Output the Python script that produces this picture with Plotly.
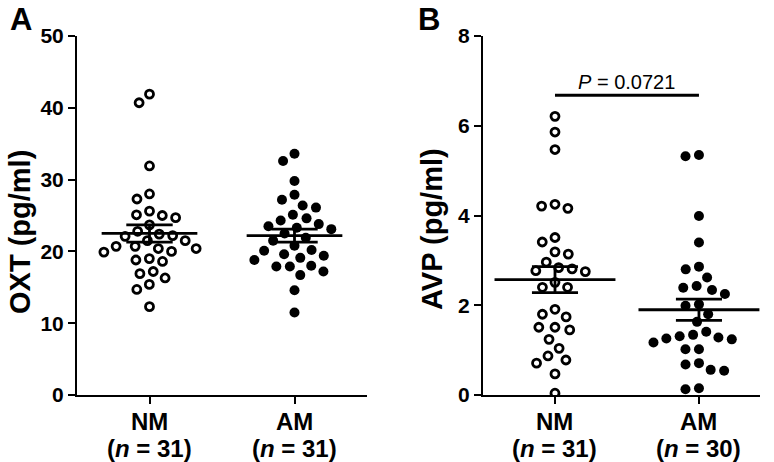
import math
import plotly.graph_objects as go

# ---------------- data ----------------
groups = ["NM", "AM"]
oxt_n = [31, 31]
avp_n = [31, 30]

oxt_nm = [41.9, 40.7, 31.9, 28.0, 27.3, 25.1, 25.6, 24.7, 25.0, 23.7, 22.8, 22.4, 22.1, 21.5, 21.5,
          22.2, 20.7, 20.4, 20.0, 20.4, 20.7, 19.9, 18.6, 19.0, 18.8, 16.9, 17.2, 16.3, 15.4, 14.7, 12.3]
oxt_am = [33.6, 32.6, 29.8, 27.9, 27.2, 26.4, 26.1, 25.1, 24.6, 24.3, 23.8, 23.3, 23.1, 23.5, 22.5,
          21.9, 21.5, 20.8, 20.2, 19.6, 20.1, 19.1, 19.4, 18.8, 18.0, 17.9, 17.9, 16.7, 17.2, 14.6, 11.5]
avp_nm = [6.21, 5.86, 5.47, 4.21, 4.16, 4.25, 3.51, 3.41, 3.19, 3.14, 2.96, 2.81, 2.75, 2.77, 2.84,
          2.40, 2.40, 2.51, 1.91, 1.74, 1.80, 1.51, 1.45, 1.51, 1.24, 1.04, 0.87, 0.71, 0.78, 0.47, 0.04]
avp_am = [5.35, 5.32, 3.99, 3.40, 2.86, 2.80, 2.62, 2.43, 2.34, 2.39, 2.25, 2.02, 1.99, 1.80, 1.63,
          1.41, 1.31, 1.26, 1.17, 1.34, 1.24, 1.28, 1.02, 1.02, 0.71, 0.56, 0.54, 0.68, 0.13, 0.15]

oxt_mean = [22.5, 22.2]
oxt_sem = [1.2, 0.9]
avp_mean = [2.57, 1.90]
avp_sem = [0.29, 0.235]

p_text = "<i>P</i> = 0.0721"
p_bar_y = 6.68

# ---------------- layout geometry ----------------
W, H = 774, 462
MT, MB = 36, 67
PLOT_H = H - MT - MB
A_X0, A_X1 = 77, 367
B_X0, B_X1 = 483, 760
A_RANGE = [-0.5, 1.5]
B_RANGE = [-0.5, 1.424]
A_YMAX, B_YMAX = 50, 8
FONT = "Arial, Liberation Sans, sans-serif"


def swarm(vals, y_px_per_unit, x_px_per_unit, d):
    placed = []
    offs = [0.0] * len(vals)
    order = sorted(range(len(vals)), key=lambda i: -vals[i])
    for i in order:
        y = vals[i] * y_px_per_unit
        cands = [0.0]
        for xj, yj in placed:
            dy = abs(y - yj)
            if dy < d:
                dx = math.sqrt(d * d - dy * dy)
                cands += [xj + dx, xj - dx]
        cands.sort(key=lambda c: (abs(c), c))
        chosen = 0.0
        for c in cands:
            if all((c - xj) ** 2 + (y - yj) ** 2 >= d * d - 1e-6 for xj, yj in placed):
                chosen = c
                break
        placed.append((chosen, y))
        offs[i] = chosen / x_px_per_unit
    return offs


a_xpx = (A_X1 - A_X0) / (A_RANGE[1] - A_RANGE[0])
b_xpx = (B_X1 - B_X0) / (B_RANGE[1] - B_RANGE[0])
a_ypx = PLOT_H / A_YMAX
b_ypx = PLOT_H / B_YMAX
D = 13.5

fig = go.Figure()

def add_group(vals, gi, xaxis, yaxis, xpx, ypx, filled):
    offs = swarm(vals, ypx, xpx, D)
    fig.add_trace(go.Scatter(
        x=[gi + o for o in offs], y=vals, mode="markers", xaxis=xaxis, yaxis=yaxis,
        marker=dict(symbol="circle", size=8 if not filled else 10,
                    color="white" if not filled else "black",
                    line=dict(color="black", width=2.8 if not filled else 0)),
        showlegend=False, hoverinfo="y"))

def add_mean(mean, sem, gi, xaxis, yaxis, hw, cw):
    line = dict(color="black", width=2.8)
    fig.add_trace(go.Scatter(x=[gi - hw, gi + hw], y=[mean, mean], mode="lines",
                             xaxis=xaxis, yaxis=yaxis, line=line, showlegend=False, hoverinfo="skip"))
    fig.add_trace(go.Scatter(
        x=[gi - cw, gi + cw, None, gi - cw, gi + cw, None, gi, gi],
        y=[mean + sem, mean + sem, None, mean - sem, mean - sem, None, mean - sem, mean + sem],
        mode="lines", xaxis=xaxis, yaxis=yaxis, line=line, showlegend=False, hoverinfo="skip"))

add_group(oxt_nm, 0, "x", "y", a_xpx, a_ypx, False)
add_group(oxt_am, 1, "x", "y", a_xpx, a_ypx, True)
add_group(avp_nm, 0, "x2", "y2", b_xpx, b_ypx, False)
add_group(avp_am, 1, "x2", "y2", b_xpx, b_ypx, True)

for gi in range(2):
    add_mean(oxt_mean[gi], oxt_sem[gi], gi, "x", "y", 0.33, 0.16)
    add_mean(avp_mean[gi], avp_sem[gi], gi, "x2", "y2", 0.42, 0.16)

# significance bar
fig.add_trace(go.Scatter(x=[0, 1], y=[p_bar_y, p_bar_y], mode="lines", xaxis="x2", yaxis="y2",
                         line=dict(color="black", width=2.8), showlegend=False, hoverinfo="skip"))
fig.add_annotation(x=0.5, y=p_bar_y, xref="x2", yref="y2", text=p_text, showarrow=False,
                   yanchor="bottom", yshift=0, font=dict(family=FONT, size=20, color="black"))

axis_common = dict(showgrid=False, zeroline=False, showline=True, linecolor="black", linewidth=2,
                   ticks="outside", ticklen=7, tickwidth=2, tickcolor="black",
                   tickfont=dict(family=FONT, size=21, color="black", weight="bold"))

fig.update_layout(
    width=W, height=H, margin=dict(l=0, r=0, t=MT, b=MB),
    paper_bgcolor="white", plot_bgcolor="white",
    xaxis=dict(domain=[A_X0 / W, A_X1 / W], range=A_RANGE, tickvals=[0, 1], showticklabels=False,
               anchor="y", **axis_common),
    yaxis=dict(domain=[0, 1], range=[0, A_YMAX], dtick=10, anchor="x", **axis_common),
    xaxis2=dict(domain=[B_X0 / W, B_X1 / W], range=B_RANGE, tickvals=[0, 1], showticklabels=False,
                anchor="y2", **axis_common),
    yaxis2=dict(domain=[0, 1], range=[0, B_YMAX], dtick=2, anchor="x2", **axis_common),
)

def py(px):
    return (H - MB - px) / PLOT_H

cat_font = dict(family=FONT, size=24, color="black", weight="bold")
for xr, ns in (("x", oxt_n), ("x2", avp_n)):
    for gi, (g, n) in enumerate(zip(groups, ns)):
        fig.add_annotation(x=gi, y=py(421), xref=xr, yref="paper", text=g, showarrow=False,
                           xanchor="center", yanchor="middle", font=cat_font)
        fig.add_annotation(x=gi, y=py(448), xref=xr, yref="paper", text=f"(<i>n</i> = {n})",
                           showarrow=False, xanchor="center", yanchor="middle", font=cat_font)

title_font = dict(family=FONT, size=29, color="black", weight="bold")
fig.add_annotation(x=20 / W, y=py(232), xref="paper", yref="paper", text="OXT (pg/ml)", textangle=-90,
                   showarrow=False, xanchor="center", yanchor="middle", font=title_font)
fig.add_annotation(x=432 / W, y=py(229), xref="paper", yref="paper", text="AVP (pg/ml)", textangle=-90,
                   showarrow=False, xanchor="center", yanchor="middle", font=title_font)
panel_font = dict(family=FONT, size=31, color="black", weight="bold")
fig.add_annotation(x=21 / W, y=py(19), xref="paper", yref="paper", text="A", showarrow=False,
                   xanchor="center", yanchor="middle", font=panel_font)
fig.add_annotation(x=429 / W, y=py(19), xref="paper", yref="paper", text="B", showarrow=False,
                   xanchor="center", yanchor="middle", font=panel_font)

fig.write_html("out.html", config={"displayModeBar": False},
               post_script="document.body.style.margin='0px';document.body.style.overflow='hidden';")
